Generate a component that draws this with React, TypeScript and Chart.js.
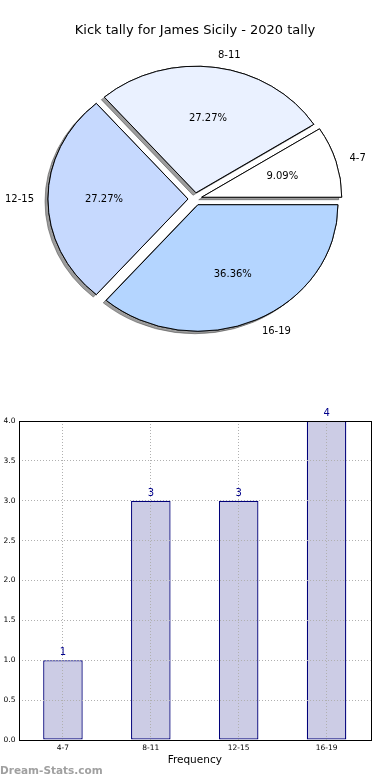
import React, { useEffect, useRef } from 'react';
import { Chart, registerables } from 'chart.js';

Chart.register(...registerables);

const TITLE = 'Kick tally for James Sicily - 2020 tally';
const categories = ['4-7', '8-11', '12-15', '16-19'];
const counts = [1, 3, 3, 4];
const pieColors = ['#ffffff', '#eaf1ff', '#c6d9fe', '#b4d5ff'];
const yTickLabels = ['0.0', '0.5', '1.0', '1.5', '2.0', '2.5', '3.0', '3.5', '4.0'];
const X_TITLE = 'Frequency';
const WATERMARK = 'Dream-Stats.com';

const FONT = 'DejaVu Sans';
const SY = 0.9035;
const EXPLODE = 7;

// matplotlib draws counter-clockwise from 3 o'clock; Chart.js clockwise -> reverse order
const pieLabels = [...categories].reverse();
const pieValues = [...counts].reverse();
const pieBg = [...pieColors].reverse();

const piePlugin = {
  id: 'pieCustom',
  beforeDatasetsDraw(chart: any) {
    const ctx = chart.ctx;
    const meta = chart.getDatasetMeta(0);
    const drawAll = (shadow: boolean) => {
      meta.data.forEach((arc: any) => {
        const mid = (arc.startAngle + arc.endAngle) / 2;
        ctx.save();
        ctx.translate(arc.x, arc.y);
        ctx.scale(1, SY);
        ctx.translate(-arc.x, -arc.y);
        ctx.translate(Math.cos(mid) * EXPLODE, Math.sin(mid) * EXPLODE);
        if (shadow) {
          ctx.shadowColor = 'rgba(60,60,60,0.5)';
          ctx.shadowOffsetX = -3;
          ctx.shadowOffsetY = 2.5;
          ctx.shadowBlur = 0;
        }
        arc.draw(ctx);
        ctx.restore();
      });
    };
    drawAll(true);
    drawAll(false);
    return false;
  },
  afterDraw(chart: any) {
    const ctx = chart.ctx;
    const meta = chart.getDatasetMeta(0);
    const total = pieValues.reduce((a, b) => a + b, 0);
    ctx.save();
    ctx.fillStyle = '#000';
    ctx.font = `13px "${FONT}"`;
    ctx.textAlign = 'center';
    ctx.textBaseline = 'middle';
    ctx.fillText(TITLE, 195, 31);
    ctx.font = `10px "${FONT}"`;
    meta.data.forEach((arc: any, i: number) => {
      const mid = (arc.startAngle + arc.endAngle) / 2;
      const c = Math.cos(mid);
      const s = Math.sin(mid);
      const R = arc.outerRadius;
      const r1 = EXPLODE + 0.6 * R;
      const r2 = EXPLODE + 1.1 * R;
      ctx.textAlign = 'center';
      const pct = ((pieValues[i] / total) * 100).toFixed(2) + '%';
      ctx.fillText(pct, arc.x + c * r1, arc.y + s * r1 * SY + 0.5);
      ctx.textAlign = c > 0 ? 'left' : 'right';
      ctx.fillText(pieLabels[i], arc.x + c * r2, arc.y + s * r2 * SY + 0.5);
    });
    ctx.restore();
  },
};

const barPlugin = {
  id: 'barCustom',
  afterDraw(chart: any) {
    const ctx = chart.ctx;
    const { left, top, right, bottom } = chart.chartArea;
    ctx.save();
    ctx.strokeStyle = '#000';
    ctx.lineWidth = 1;
    ctx.strokeRect(Math.round(left) + 0.5, Math.round(top) + 0.5, Math.round(right) - Math.round(left), Math.round(bottom) - Math.round(top));
    const meta = chart.getDatasetMeta(0);
    ctx.fillStyle = '#00008b';
    ctx.font = `10px "${FONT}"`;
    ctx.textAlign = 'center';
    ctx.textBaseline = 'middle';
    meta.data.forEach((bar: any, i: number) => {
      ctx.fillText(String(counts[i]), bar.x, bar.y - 7.5);
    });
    ctx.restore();
  },
};

export default function App() {
  const pieRef = useRef<HTMLCanvasElement>(null);
  const barRef = useRef<HTMLCanvasElement>(null);

  useEffect(() => {
    Chart.defaults.font.family = FONT;
    const pie = new Chart(pieRef.current as HTMLCanvasElement, {
      type: 'pie',
      data: {
        labels: pieLabels,
        datasets: [
          {
            data: pieValues,
            backgroundColor: pieBg,
            borderColor: '#000',
            borderWidth: 1,
            radius: 140,
            clip: false,
          } as any,
        ],
      },
      options: {
        responsive: false,
        animation: false,
        events: [],
        rotation: 90,
        layout: { padding: { top: 18, left: 0.5, right: 0.5, bottom: 0 } },
        plugins: { legend: { display: false }, tooltip: { enabled: false }, title: { display: false } },
      },
      plugins: [piePlugin],
    });

    const bar = new Chart(barRef.current as HTMLCanvasElement, {
      type: 'bar',
      data: {
        labels: categories,
        datasets: [
          {
            data: counts,
            backgroundColor: '#ccccE5',
            borderColor: '#00007a',
            borderWidth: 1.3,
            borderSkipped: false,
            barPercentage: 0.45,
            categoryPercentage: 1,
          },
        ],
      },
      options: {
        responsive: false,
        animation: false,
        events: [],
        layout: { padding: { top: 31, right: 19.5, left: 0, bottom: 0 } },
        plugins: { legend: { display: false }, tooltip: { enabled: false } },
        scales: {
          x: {
            offset: true,
            grid: { offset: false, color: '#b0b0b0', drawTicks: false, z: 1 },
            border: { display: false, dash: [1, 2] },
            ticks: { font: { size: 7.5, family: FONT }, color: '#000', padding: 3.5 },
            title: { display: true, text: X_TITLE, font: { size: 10.5, family: FONT }, color: '#000', padding: { top: 0, bottom: 13.7 } },
            afterFit: (s: any) => { s.height = 40; },
          },
          y: {
            min: 0,
            max: 4,
            grid: { color: '#b0b0b0', drawTicks: false, z: 1 },
            border: { display: false, dash: [1, 2] },
            ticks: {
              stepSize: 0.5,
              font: { size: 7.5, family: FONT },
              color: '#000',
              padding: 3.5,
              callback: (_v: any, i: number) => yTickLabels[i],
            },
            afterFit: (s: any) => { s.width = 19; },
          },
        },
      } as any,
      plugins: [barPlugin],
    });

    return () => {
      pie.destroy();
      bar.destroy();
    };
  }, []);

  return (
    <div style={{ position: 'fixed', left: 0, top: 0, width: 390, height: 780, background: '#fff', overflow: 'hidden' }}>
      <canvas ref={pieRef} width={390} height={380} style={{ position: 'absolute', left: 0, top: 0, width: 390, height: 380 }} />
      <canvas ref={barRef} width={390} height={390} style={{ position: 'absolute', left: 0, top: 390, width: 390, height: 390 }} />
      <div
        style={{
          position: 'absolute',
          left: 0,
          top: 762,
          fontFamily: FONT,
          fontWeight: 'bold',
          fontSize: 10.5,
          lineHeight: '16px',
          color: '#a0a0a0',
          whiteSpace: 'nowrap',
        }}
      >
        {WATERMARK}
      </div>
    </div>
  );
}
